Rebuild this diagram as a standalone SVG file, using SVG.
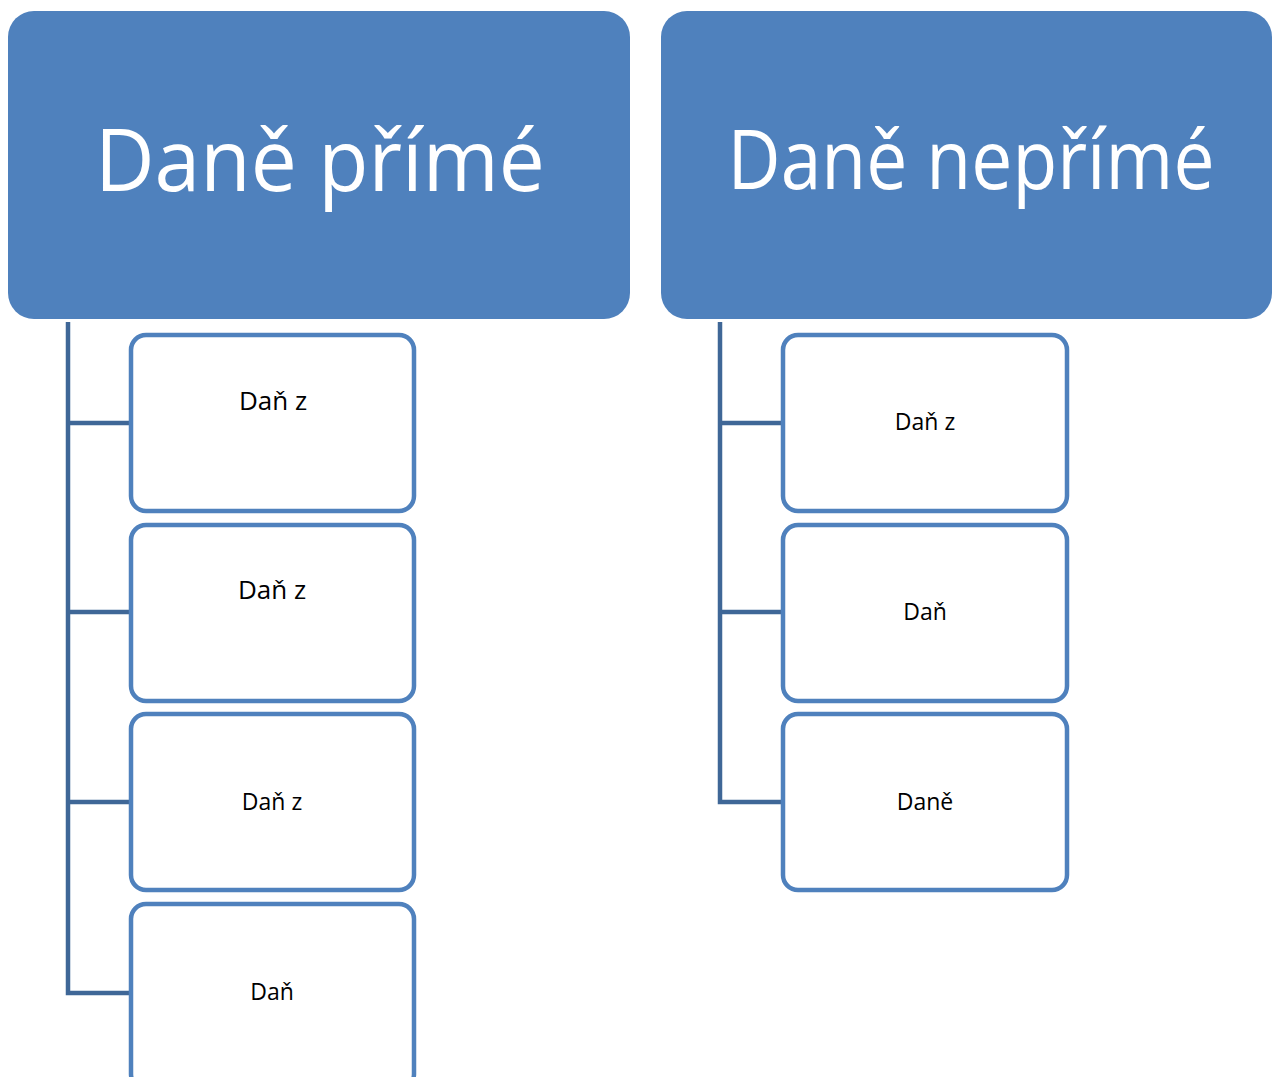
<svg xmlns="http://www.w3.org/2000/svg" width="1272" height="1077" viewBox="0 0 1272 1077">
<style>
.hdr{fill:#4F81BD}
.hdrt{fill:#fff;font-family:"Open Sans","Noto Sans",sans-serif;text-anchor:middle}
.box{fill:#fff;stroke:#4F81BD;stroke-width:4.5}
.lbl{fill:#000;font-family:"Open Sans","Noto Sans",sans-serif;text-anchor:middle}
.con{fill:none;stroke:#3F6797;stroke-width:4.5}
</style>
<rect width="1272" height="1077" fill="#fff"/>
<g id="connectors">
<path class="con" d="M68,322 V993 H131 M68,423 H131 M68,612 H131 M68,802 H131"/>
<path class="con" d="M720,322 V802 H783 M720,423 H783 M720,612 H783"/>
</g>
<g id="h1"><rect class="hdr" x="8" y="11" width="622" height="308" rx="26"/><text class="hdrt" x="320" y="191" font-size="86" textLength="450" lengthAdjust="spacingAndGlyphs">Daně přímé</text></g>
<g id="h2"><rect class="hdr" x="661" y="11" width="611" height="308" rx="26"/><text class="hdrt" x="971" y="189" font-size="82" textLength="487" lengthAdjust="spacingAndGlyphs">Daně nepřímé</text></g>
<g id="l1"><rect class="box" x="131" y="335" width="283" height="176" rx="15"/><text class="lbl" x="273" y="410" font-size="26">Daň z</text></g>
<g id="l2"><rect class="box" x="131" y="525" width="283" height="176" rx="15"/><text class="lbl" x="272" y="599" font-size="26">Daň z</text></g>
<g id="l3"><rect class="box" x="131" y="714" width="283" height="176" rx="15"/><text class="lbl" x="272" y="810" font-size="23">Daň z</text></g>
<g id="l4"><rect class="box" x="131" y="904" width="283" height="185" rx="15"/><text class="lbl" x="272" y="1000" font-size="23">Daň</text></g>
<g id="r1"><rect class="box" x="783" y="335" width="284" height="176" rx="15"/><text class="lbl" x="925" y="430" font-size="23">Daň z</text></g>
<g id="r2"><rect class="box" x="783" y="525" width="284" height="176" rx="15"/><text class="lbl" x="925" y="620" font-size="23">Daň</text></g>
<g id="r3"><rect class="box" x="783" y="714" width="284" height="176" rx="15"/><text class="lbl" x="925" y="810" font-size="23">Daně</text></g>
</svg>
